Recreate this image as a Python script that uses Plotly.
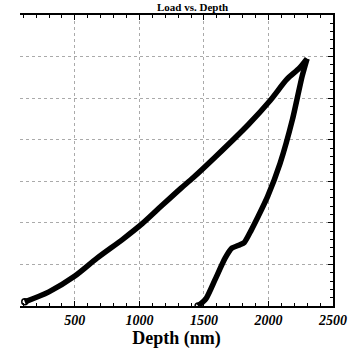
import plotly.graph_objects as go

# Loading curve (depth nm, load)
load_depth = [112, 299, 500, 672, 873, 1022, 1172, 1321, 1418, 1590, 1843, 2015, 2142, 2239, 2299]
load_force = [0.10, 0.34, 0.72, 1.15, 1.61, 1.98, 2.41, 2.83, 3.09, 3.59, 4.36, 4.95, 5.45, 5.72, 5.95]

# Unloading curve
unload_depth = [2299, 2261, 2187, 2090, 1993, 1918, 1866, 1813, 1776, 1716, 1664, 1590, 1515, 1455]
unload_force = [5.95, 5.53, 4.50, 3.43, 2.63, 2.14, 1.82, 1.53, 1.47, 1.39, 1.15, 0.66, 0.17, 0.0]

x_ticks = [500, 1000, 1500, 2000, 2500]

fig = go.Figure()
fig.add_trace(go.Scatter(x=load_depth, y=load_force, mode="lines",
                         line=dict(color="black", width=5.5, shape="spline", smoothing=0.8),
                         showlegend=False))
fig.add_trace(go.Scatter(x=unload_depth, y=unload_force, mode="lines",
                         line=dict(color="black", width=5.5, shape="spline", smoothing=0.6),
                         showlegend=False))
fig.add_trace(go.Scatter(x=[load_depth[0], unload_depth[-1]], y=[load_force[0], unload_force[-1]],
                         mode="markers", marker=dict(symbol="circle-open", size=6, color="black",
                                                     line=dict(width=1.5)),
                         showlegend=False))

fig.add_annotation(text="<b>Load vs. Depth</b>", xref="paper", yref="paper", x=0.55, y=1,
                   yanchor="bottom", yshift=0, showarrow=False,
                   font=dict(family="Liberation Serif", size=11, color="black"))

fig.update_layout(
    width=359, height=356,
    margin=dict(l=20, r=14, t=15, b=50),
    paper_bgcolor="white", plot_bgcolor="white",
    xaxis=dict(
        range=[75, 2500], tickvals=x_ticks, ticktext=["<b><i>%d</i></b>" % v for v in x_ticks],
        showline=True, linecolor="black", linewidth=2, mirror="ticks",
        ticks="inside", ticklen=5, tickcolor="black", tickwidth=1,
        minor=dict(dtick=100, ticks="inside", ticklen=3, tickcolor="black", showgrid=False),
        showgrid=True, gridcolor="#aaaaaa", griddash="dot", gridwidth=1,
        zeroline=False,
        tickfont=dict(family="Liberation Serif", size=14, color="black"),
        title=dict(text="<b>Depth (nm)</b>", font=dict(family="Liberation Serif", size=18, color="black"),
                   standoff=4),
    ),
    yaxis=dict(
        range=[0, 7], dtick=1, side="right",
        showline=True, linecolor="black", linewidth=2,
        ticks="inside", ticklen=5, tickcolor="black", tickwidth=1,
        minor=dict(dtick=0.2, ticks="inside", ticklen=3, tickcolor="black", showgrid=False),
        showticklabels=False,
        showgrid=True, gridcolor="#aaaaaa", griddash="dot", gridwidth=1,
        zeroline=False,
    ),
)

fig.write_html("out.html")
